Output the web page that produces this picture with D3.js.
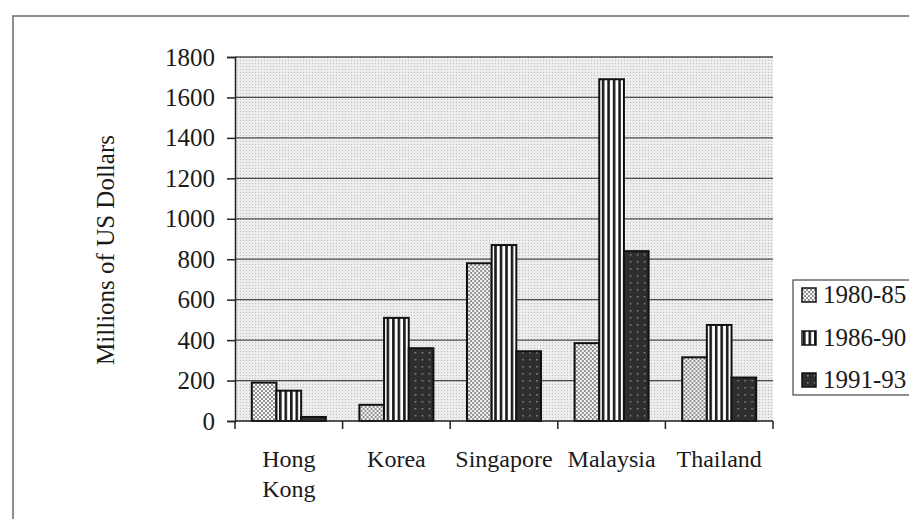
<!DOCTYPE html>
<html>
<head>
<meta charset="utf-8">
<script src="https://cdn.jsdelivr.net/npm/d3@7"></script>
<style>
  html, body { margin: 0; padding: 0; background: #fff; }
  svg { display: block; }
  text { font-family: "Liberation Serif", "Times New Roman", serif; fill: #1a1a1a; }
</style>
</head>
<body>
<svg id="chart" width="909" height="519"></svg>
<script>
// Foreign investment by country and period (millions of US dollars)
const categories = ["Hong Kong", "Korea", "Singapore", "Malaysia", "Thailand"];
const seriesNames = ["1980-85", "1986-90", "1991-93"];
const values1980_85 = [190, 80, 780, 385, 315];
const values1986_90 = [150, 510, 870, 1690, 475];
const values1991_93 = [20, 360, 345, 840, 215];
const yTicks = [0, 200, 400, 600, 800, 1000, 1200, 1400, 1600, 1800];

const seriesValues = [values1980_85, values1986_90, values1991_93];
const rows = categories.map((c, i) => ({
  category: c,
  bars: seriesNames.map((s, j) => ({ series: s, value: seriesValues[j][i] }))
}));

const svg = d3.select("#chart");
const plot = { left: 235, right: 773, top: 57, bottom: 421 };

// Fill patterns
const defs = svg.append("defs");

const bgPat = defs.append("pattern").attr("id", "bg")
  .attr("width", 3).attr("height", 3).attr("patternUnits", "userSpaceOnUse");
bgPat.append("rect").attr("width", 3).attr("height", 3).attr("fill", "#ededed");
bgPat.append("rect").attr("width", 1).attr("height", 1).attr("fill", "#bdbdbd");

const p1 = defs.append("pattern").attr("id", "pat0")
  .attr("width", 4).attr("height", 4).attr("patternUnits", "userSpaceOnUse");
p1.append("rect").attr("width", 4).attr("height", 4).attr("fill", "#f6f6f6");
p1.append("rect").attr("width", 2).attr("height", 2).attr("fill", "#909090");
p1.append("rect").attr("x", 2).attr("y", 2).attr("width", 2).attr("height", 2).attr("fill", "#909090");

const p2 = defs.append("pattern").attr("id", "pat1")
  .attr("width", 5.5).attr("height", 5).attr("patternUnits", "userSpaceOnUse");
p2.append("rect").attr("width", 5.5).attr("height", 5).attr("fill", "#ffffff");
p2.append("rect").attr("width", 2.6).attr("height", 5).attr("fill", "#1c1c1c");

const p3 = defs.append("pattern").attr("id", "pat2")
  .attr("width", 7).attr("height", 7).attr("patternUnits", "userSpaceOnUse");
p3.append("rect").attr("width", 7).attr("height", 7).attr("fill", "#2e2e2e");
p3.append("rect").attr("x", 2).attr("y", 2).attr("width", 1.5).attr("height", 1.5).attr("fill", "#8c8c8c");

const patternFor = d3.scaleOrdinal().domain(seriesNames).range(["url(#pat0)", "url(#pat1)", "url(#pat2)"]);

// Outer frame (top and left edges)
svg.append("path")
  .attr("d", "M13,519 V16 H909")
  .attr("fill", "none").attr("stroke", "#6a6a6a").attr("stroke-width", 1.5);

// Scales
const x = d3.scaleBand().domain(categories).range([plot.left, plot.right]).padding(0);
const xs = d3.scaleBand().domain(seriesNames).range([0, x.bandwidth()]).paddingInner(0).paddingOuter(0.68);
const y = d3.scaleLinear().domain([0, 1800]).range([plot.bottom, plot.top]);

// Plot background
svg.append("rect")
  .attr("x", plot.left).attr("y", plot.top)
  .attr("width", plot.right - plot.left).attr("height", plot.bottom - plot.top)
  .attr("fill", "url(#bg)");

// Gridlines
svg.append("g").selectAll("line").data(yTicks.filter(t => t > 0)).join("line")
  .attr("x1", plot.left).attr("x2", plot.right)
  .attr("y1", d => y(d)).attr("y2", d => y(d))
  .attr("stroke", "#4a4a4a").attr("stroke-width", 1.3);

// Bars
const groups = svg.append("g").selectAll("g").data(rows).join("g")
  .attr("transform", d => `translate(${x(d.category)},0)`);
groups.selectAll("rect").data(d => d.bars).join("rect")
  .attr("x", d => xs(d.series))
  .attr("y", d => y(d.value))
  .attr("width", xs.bandwidth())
  .attr("height", d => y(0) - y(d.value))
  .attr("fill", d => patternFor(d.series))
  .attr("stroke", "#111").attr("stroke-width", 2);

// Y axis
const yAxis = svg.append("g")
  .attr("transform", `translate(${plot.left},0)`)
  .call(d3.axisLeft(y).tickValues(yTicks).tickFormat(d3.format("d")).tickSize(8).tickPadding(12));
yAxis.select(".domain").attr("stroke", "#222").attr("stroke-width", 1.5);
yAxis.selectAll(".tick line").attr("stroke", "#222").attr("stroke-width", 1.5);
yAxis.selectAll(".tick text")
  .attr("font-family", "Liberation Serif").attr("font-size", 25).attr("fill", "#1a1a1a");

// X axis with ticks at the category boundaries
const boundaries = categories.map(c => x(c)).concat([plot.right]);
const xAxisG = svg.append("g");
xAxisG.append("line")
  .attr("x1", plot.left).attr("x2", plot.right)
  .attr("y1", plot.bottom).attr("y2", plot.bottom)
  .attr("stroke", "#222").attr("stroke-width", 1.5);
xAxisG.selectAll("line.tk").data(boundaries).join("line").attr("class", "tk")
  .attr("x1", d => d).attr("x2", d => d)
  .attr("y1", plot.bottom).attr("y2", plot.bottom + 8)
  .attr("stroke", "#222").attr("stroke-width", 1.5);

// Category labels (wrapped onto two lines where needed)
const catLabels = xAxisG.selectAll("text.cat").data(categories).join("text").attr("class", "cat")
  .attr("x", d => x(d) + x.bandwidth() / 2)
  .attr("y", 467)
  .attr("text-anchor", "middle")
  .attr("font-size", 24);
catLabels.each(function(d) {
  const words = d === "Hong Kong" ? ["Hong", "Kong"] : [d];
  const t = d3.select(this);
  words.forEach((w, i) => {
    t.append("tspan").attr("x", x(d) + x.bandwidth() / 2).attr("dy", i === 0 ? 0 : 30).text(w);
  });
});

// Y axis title
svg.append("text")
  .attr("transform", "translate(114,250) rotate(-90)")
  .attr("text-anchor", "middle")
  .attr("font-size", 25)
  .text("Millions of US Dollars");

// Legend
const legend = svg.append("g");
legend.append("rect")
  .attr("x", 793).attr("y", 280).attr("width", 130).attr("height", 115)
  .attr("fill", "#fff").attr("stroke", "#555").attr("stroke-width", 1.3);
const legendRowY = [295, 338, 380];
const items = legend.selectAll("g.item").data(seriesNames).join("g").attr("class", "item")
  .attr("transform", (d, i) => `translate(0,${legendRowY[i]})`);
items.append("rect")
  .attr("x", 802).attr("y", -7).attr("width", 14).attr("height", 14)
  .attr("fill", d => patternFor(d)).attr("stroke", "#111").attr("stroke-width", 1.5);
items.append("text")
  .attr("x", 823).attr("y", 8)
  .attr("font-size", 25)
  .text(d => d);
</script>
</body>
</html>
